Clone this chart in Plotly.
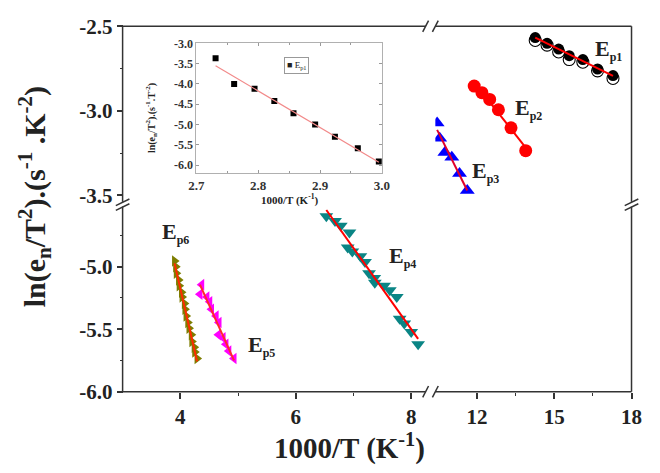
import numpy as np
import plotly.graph_objects as go

W, H = 660, 473

# ---------------- data ----------------
ep1_x = [14.26, 14.72, 15.17, 15.58, 16.11, 16.68, 17.28]
ep1_y = [-2.567, -2.601, -2.635, -2.674, -2.697, -2.753, -2.792]
ep1o_x = [14.26, 14.72, 15.17, 15.58, 16.11, 16.68, 17.28]
ep1o_y = [-2.584, -2.612, -2.652, -2.697, -2.713, -2.764, -2.809]

ep2_x = [11.89, 12.19, 12.49, 12.83, 13.32, 13.89]
ep2_y = [-2.854, -2.893, -2.933, -2.994, -3.101, -3.236]

ep3_x = [10.45, 10.55, 10.75, 11.02, 11.32, 11.62]
ep3_y = [-3.073, -3.163, -3.247, -3.275, -3.371, -3.472]

ep4_x = [6.53, 6.68, 6.78, 6.93, 6.90, 6.98, 7.12, 7.20, 7.27, 7.36, 7.37, 7.53,
         7.63, 7.75, 7.80, 7.88, 8.00, 8.12]
ep4_y = [-4.598, -4.636, -4.674, -4.727, -4.848, -4.879, -4.917, -4.962, -5.053,
         -5.091, -5.129, -5.152, -5.189, -5.242, -5.417, -5.455, -5.523, -5.621]

ep5_x = [4.37, 4.34, 4.46, 4.51, 4.54, 4.62, 4.67, 4.66, 4.74, 4.79, 4.84, 4.93]
ep5_y = [-5.144, -5.220, -5.242, -5.280, -5.341, -5.394, -5.447, -5.545, -5.568,
         -5.621, -5.674, -5.735]

ep6_x = [3.90, 3.92, 3.93, 3.97, 3.98, 4.02, 4.03, 4.07, 4.08, 4.10, 4.13, 4.15,
         4.19, 4.20, 4.24, 4.25, 4.29]
ep6_y = [-4.955, -5.0, -5.053, -5.106, -5.152, -5.205, -5.242, -5.295, -5.341,
         -5.394, -5.447, -5.492, -5.545, -5.598, -5.644, -5.682, -5.735]

inset_x = [2.731, 2.761, 2.794, 2.826, 2.857, 2.892, 2.924, 2.961, 2.995]
inset_y = [-3.37, -4.0, -4.12, -4.42, -4.72, -5.0, -5.30, -5.58, -5.91]

xl_ticks = [4, 6, 8]
xl_labels = ["4", "6", "8"]
xr_ticks = [12, 15, 18]
xr_labels = ["12", "15", "18"]
yb_ticks = [-6.0, -5.5, -5.0]
yb_labels = ["-6.0", "-5.5", "-5.0"]
yt_ticks = [-3.5, -3.0, -2.5]
yt_labels = ["-3.5", "-3.0", "-2.5"]
ix_ticks = [2.7, 2.8, 2.9, 3.0]
ix_labels = ["2.7", "2.8", "2.9", "3.0"]
iy_ticks = [-6.0, -5.5, -5.0, -4.5, -4.0, -3.5, -3.0]
iy_labels = ["-6.0", "-5.5", "-5.0", "-4.5", "-4.0", "-3.5", "-3.0"]

# ---------------- geometry (pixels) ----------------
L, R, T, B = 118, 642, 15, 400
XBRK0, XBRK1 = 430, 440
YBRK0, YBRK1 = 200, 205
FRAME = "#333333"


def fx(p):
    return p / W


def fy(p):
    return 1 - p / H


SERIF = "Liberation Serif"

fig = go.Figure()


def fit_line(xs, ys, xa, ya, color, width=2):
    k, b = np.polyfit(xs, ys, 1)
    xx = np.array([min(xs), max(xs)])
    fig.add_trace(go.Scatter(x=xx, y=k * xx + b, mode="lines", xaxis=xa, yaxis=ya,
                             line=dict(color=color, width=width), showlegend=False,
                             hoverinfo="skip"))


# lower-left segment
fig.add_trace(go.Scatter(x=ep6_x, y=ep6_y, mode="markers", xaxis="x", yaxis="y",
                         marker=dict(symbol="triangle-right", size=10, color="#7d7d00"),
                         showlegend=False))
fig.add_trace(go.Scatter(x=ep5_x, y=ep5_y, mode="markers", xaxis="x", yaxis="y",
                         marker=dict(symbol="triangle-left", size=10, color="#ff00ff"),
                         showlegend=False))
fig.add_trace(go.Scatter(x=ep4_x, y=ep4_y, mode="markers", xaxis="x", yaxis="y",
                         marker=dict(symbol="triangle-down", size=12, color="#0a8585"),
                         showlegend=False))
fit_line(ep6_x, ep6_y, "x", "y", "#ff2a00")
fit_line(ep5_x, ep5_y, "x", "y", "#ff2a2a")
fit_line(ep4_x, ep4_y, "x", "y", "#ff0000")

# upper-right segment
fig.add_trace(go.Scatter(x=ep1o_x, y=ep1o_y, mode="markers", xaxis="x2", yaxis="y2",
                         marker=dict(symbol="circle-open", size=12, color="#000000",
                                     line=dict(width=1.1)),
                         showlegend=False))
fig.add_trace(go.Scatter(x=ep1_x, y=ep1_y, mode="markers", xaxis="x2", yaxis="y2",
                         marker=dict(symbol="circle", size=11, color="#000000"),
                         showlegend=False))
fig.add_trace(go.Scatter(x=ep2_x, y=ep2_y, mode="markers", xaxis="x2", yaxis="y2",
                         marker=dict(symbol="circle", size=13, color="#ff0000"),
                         showlegend=False))
fig.add_trace(go.Scatter(x=ep3_x, y=ep3_y, mode="markers", xaxis="x2", yaxis="y2",
                         marker=dict(symbol="triangle-up", size=13, color="#0000ff"),
                         showlegend=False))
fit_line(ep1_x, ep1_y, "x2", "y2", "#ff0000")
fit_line(ep2_x, ep2_y, "x2", "y2", "#ff0000")
fit_line(ep3_x, ep3_y, "x2", "y2", "#e0002a")

# inset
fig.add_trace(go.Scatter(x=inset_x, y=inset_y, mode="markers", xaxis="x5", yaxis="y5",
                         marker=dict(symbol="square", size=6, color="#000000"),
                         name="E<sub>p1</sub>", showlegend=False))
fit_line(inset_x, inset_y, "x5", "y5", "#f28a8a", width=1.2)

tickfont = dict(family=SERIF, size=21, color="#222222", weight="bold")
noline = dict(showline=False, showgrid=False, zeroline=False)


def tick_common(inside):
    return dict(ticks="inside" if inside else "outside", ticklen=6, tickwidth=1.5,
                tickcolor=FRAME)


def minor(vals, inside):
    return dict(tickvals=vals, ticklen=3, tickwidth=1.2,
                ticks="inside" if inside else "outside", tickcolor=FRAME)


layout = dict(
    width=W, height=H, autosize=False,
    margin=dict(l=0, r=0, t=0, b=0),
    paper_bgcolor="white", plot_bgcolor="white",
    font=dict(family=SERIF, color="#222222"),
    showlegend=False,
    xaxis=dict(domain=[fx(L), fx(XBRK0)], range=[3.0, 8.25], anchor="free",
               position=fy(B), tickmode="array", tickvals=xl_ticks, ticktext=xl_labels,
               minor=minor([5, 7], False), tickfont=tickfont,
               **tick_common(False), **noline),
    xaxis2=dict(domain=[fx(XBRK1), fx(R)], range=[10.38, 18], anchor="free",
                position=fy(B), tickmode="array", tickvals=xr_ticks, ticktext=xr_labels,
                minor=minor([13.5, 16.5], False), tickfont=tickfont,
                **tick_common(False), **noline),
    xaxis3=dict(overlaying="x", side="top", anchor="free", position=fy(T),
                range=[3.0, 8.25], tickmode="array", tickvals=xl_ticks,
                showticklabels=False, minor=minor([5, 7], True),
                **tick_common(True), **noline),
    xaxis4=dict(overlaying="x2", side="top", anchor="free", position=fy(T),
                range=[10.38, 18], tickmode="array", tickvals=xr_ticks,
                showticklabels=False, minor=minor([13.5, 16.5], True),
                **tick_common(True), **noline),
    yaxis=dict(domain=[fy(B), fy(YBRK1)], range=[-6.0, -4.52], anchor="free",
               position=fx(L), tickmode="array", tickvals=yb_ticks, ticktext=yb_labels,
               minor=minor([-5.75, -5.25, -4.75], False), tickfont=tickfont,
               **tick_common(False), **noline),
    yaxis2=dict(domain=[fy(YBRK0), fy(T)], range=[-3.539, -2.5], anchor="free",
                position=fx(L), tickmode="array", tickvals=yt_ticks, ticktext=yt_labels,
                minor=minor([-3.25, -2.75], False), tickfont=tickfont,
                **tick_common(False), **noline),
    yaxis3=dict(overlaying="y", side="right", anchor="free", position=fx(R),
                range=[-6.0, -4.52], tickmode="array", tickvals=yb_ticks,
                showticklabels=False, minor=minor([-5.75, -5.25, -4.75], True),
                **tick_common(True), **noline),
    yaxis4=dict(overlaying="y2", side="right", anchor="free", position=fx(R),
                range=[-3.539, -2.5], tickmode="array", tickvals=yt_ticks,
                showticklabels=False, minor=minor([-3.25, -2.75], True),
                **tick_common(True), **noline),
    xaxis5=dict(domain=[fx(194), fx(385)], range=[2.7, 3.0], anchor="y5",
                tickmode="array", tickvals=ix_ticks, ticktext=ix_labels,
                ticks="inside", ticklen=3, tickcolor="#999999", mirror="allticks",
                showline=True, linecolor="#b0b0b0", linewidth=1, showgrid=False,
                zeroline=False,
                minor=dict(tickvals=[2.75, 2.85, 2.95], ticklen=2, ticks="inside",
                           tickcolor="#999999"),
                tickfont=dict(family=SERIF, size=13, color="#333333", weight="bold")),
    yaxis5=dict(domain=[fy(170), fy(33)], range=[-6.2, -3.0], anchor="x5",
                tickmode="array", tickvals=iy_ticks, ticktext=iy_labels,
                ticks="inside", ticklen=3, tickcolor="#999999", mirror="allticks",
                showline=True, linecolor="#b0b0b0", linewidth=1, showgrid=False,
                zeroline=False,
                tickfont=dict(family=SERIF, size=12, color="#333333", weight="bold")),
)
fig.update_layout(**layout)

# ---------------- annotations ----------------
ann = []


def label(txt, x, y, size, xanchor="center", yanchor="middle", angle=0, **kw):
    d = dict(text=txt, x=fx(x), y=fy(y), xref="paper", yref="paper",
             showarrow=False, xanchor=xanchor, yanchor=yanchor, textangle=angle,
             font=dict(family=SERIF, size=size, color="#222222"))
    d.update(kw)
    ann.append(d)


def eplabel(n, x, y):
    label("<b>E<sub><span style='font-size:12px'>p%d</span></sub></b>" % n, x, y, 22,
          xanchor="left")


eplabel(1, 602, 40)
eplabel(2, 520, 102)
eplabel(3, 476, 169)
eplabel(4, 390, 258)
eplabel(5, 245, 352)
eplabel(6, 156, 233)

label("<b>1000/T (K<sup>-1</sup>)</b>", 352, 458, 29)
label("<b>ln(e<sub>n</sub>/T<sup>2</sup>).(s<sup>-1</sup> .K<sup>-2</sup>)</b>", 27, 195,
      30, angle=-90)
label("<b>1000/T (K<sup>-1</sup>)</b>", 290, 197, 11)
label("<b>ln(e<sub>n</sub>/T<sup>2</sup>).(s<sup>-1</sup>.T<sup>-2</sup>)</b>", 148, 112,
      10, angle=-90)
# inset legend box
label("<b>■</b> E<sub>p1</sub>", 297, 56, 9, bordercolor="#999999", borderwidth=1,
      borderpad=2, bgcolor="white")

fig.update_layout(annotations=ann)

# ---------------- frame with axis breaks ----------------
shapes = []


def seg(x0, y0, x1, y1, w=1.5):
    shapes.append(dict(type="line", xref="paper", yref="paper", x0=fx(x0), y0=fy(y0),
                       x1=fx(x1), y1=fy(y1), line=dict(color=FRAME, width=w)))


for yc in (T, B):
    seg(L, yc, XBRK0, yc)
    seg(XBRK1, yc, R, yc)
for xc in (L, R):
    seg(xc, T, xc, YBRK0)
    seg(xc, YBRK1, xc, B)
    seg(xc - 7, YBRK0 + 4, xc + 7, YBRK0 - 3)
    seg(xc - 7, YBRK1 + 4, xc + 7, YBRK1 - 3)
for yc in (T, B):
    seg(XBRK0 - 3, yc + 6, XBRK0 + 3, yc - 6)
    seg(XBRK1 - 3, yc + 6, XBRK1 + 3, yc - 6)

fig.update_layout(shapes=shapes)

fig.write_html("out.html")
